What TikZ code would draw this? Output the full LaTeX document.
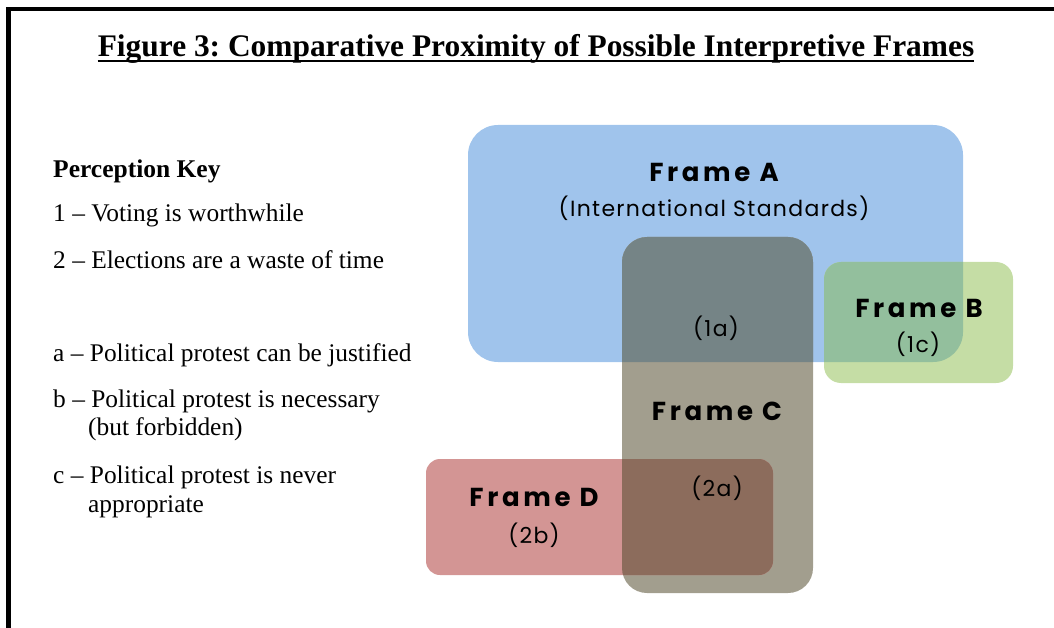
\documentclass[tikz,border=0pt]{standalone}
\usepackage{fontspec}
\setmainfont{Liberation Serif}
\newfontfamily\framefont[LetterSpace=6]{Poppins}
\newfontfamily\framenamefont[LetterSpace=14]{Poppins}
\usepackage{tikz}
\frenchspacing
\definecolor{frameblue}{RGB}{160,196,236}
\definecolor{framegreen}{RGB}{197,221,165}
\definecolor{framegrey}{RGB}{162,158,142}
\definecolor{framerose}{RGB}{211,149,148}
\definecolor{bluegrey}{RGB}{117,132,134}
\definecolor{bluegreen}{RGB}{147,191,157}
\definecolor{greyrose}{RGB}{140,108,92}
\newcommand{\frameApath}{(468,125) rectangle (963,362)}
\newcommand{\frameBpath}{(824,262) rectangle (1013,383)}
\newcommand{\frameCpath}{(622,237) rectangle (813,593)}
\newcommand{\frameDpath}{(426,459) rectangle (773,575)}

\begin{document}
\begin{tikzpicture}[x=1pt,y=-1pt,
    keytext/.style={anchor=base west,inner sep=0pt,font=\fontsize{25.4}{30}\selectfont},
    framename/.style={inner sep=0pt,font=\framenamefont\bfseries\fontsize{26}{31}\selectfont},
    framenote/.style={inner sep=0pt,font=\framefont\fontsize{22}{26}\selectfont}]
    \useasboundingbox (0,0) rectangle (1054,628);

    % Border (top and left)
    \draw[line width=4.5pt] (8.5,628) -- (8.5,9) -- (1054,9);

    % Title
    \node[anchor=base,inner sep=0pt,font=\bfseries\fontsize{31.4}{36}\selectfont] (title) at (536,57)
        {Figure 3: Comparative Proximity of Possible Interpretive Frames};
    \draw[line width=1.8pt] ([yshift=-4pt]title.base west) -- ([yshift=-4pt]title.base east);

    % Perception key
    \node[keytext,font=\bfseries\fontsize{25.5}{30}\selectfont] (keyhead) at (53,178) {Perception Key};
    \node[keytext] (keyone) at (53,222) {1 -- Voting is worthwhile};
    \node[keytext] (keytwo) at (53,269) {2 -- Elections are a waste of time};
    \node[keytext] (keya) at (53,361) {a -- Political protest can be justified};
    \node[keytext] (keyb) at (53,407) {b -- Political protest is necessary};
    \node[keytext] (keybb) at (88,435) {(but forbidden)};
    \node[keytext] (keyc) at (53,483) {c -- Political protest is never};
    \node[keytext] (keycc) at (88,512) {appropriate};

    % Frames
    \fill[frameblue,rounded corners=30pt] \frameApath;
    \fill[framegrey,rounded corners=25pt] \frameCpath;
    \fill[framegreen,rounded corners=17pt] \frameBpath;
    \fill[framerose,rounded corners=14pt] \frameDpath;

    % Overlaps
    \begin{scope}
        \clip[rounded corners=30pt] \frameApath;
        \fill[bluegrey,rounded corners=25pt] \frameCpath;
        \fill[bluegreen,rounded corners=17pt] \frameBpath;
    \end{scope}
    \begin{scope}
        \clip[rounded corners=25pt] \frameCpath;
        \fill[greyrose,rounded corners=14pt] \frameDpath;
    \end{scope}

    % Frame labels
    \node[framename] (frameA) at (714,172) {Frame A};
    \node[framenote] (frameAsub) at (714,208) {(International Standards)};
    \node[framenote] (labelOneA) at (716,328) {(1a)};
    \node[framename] (frameB) at (919,308) {Frame B};
    \node[framenote] (labelOneC) at (918,344) {(1c)};
    \node[framename] (frameC) at (717,411) {Frame C};
    \node[framenote] (labelTwoA) at (717,488) {(2a)};
    \node[framename] (frameD) at (534,497) {Frame D};
    \node[framenote] (labelTwoB) at (534,535) {(2b)};
\end{tikzpicture}
\end{document}
